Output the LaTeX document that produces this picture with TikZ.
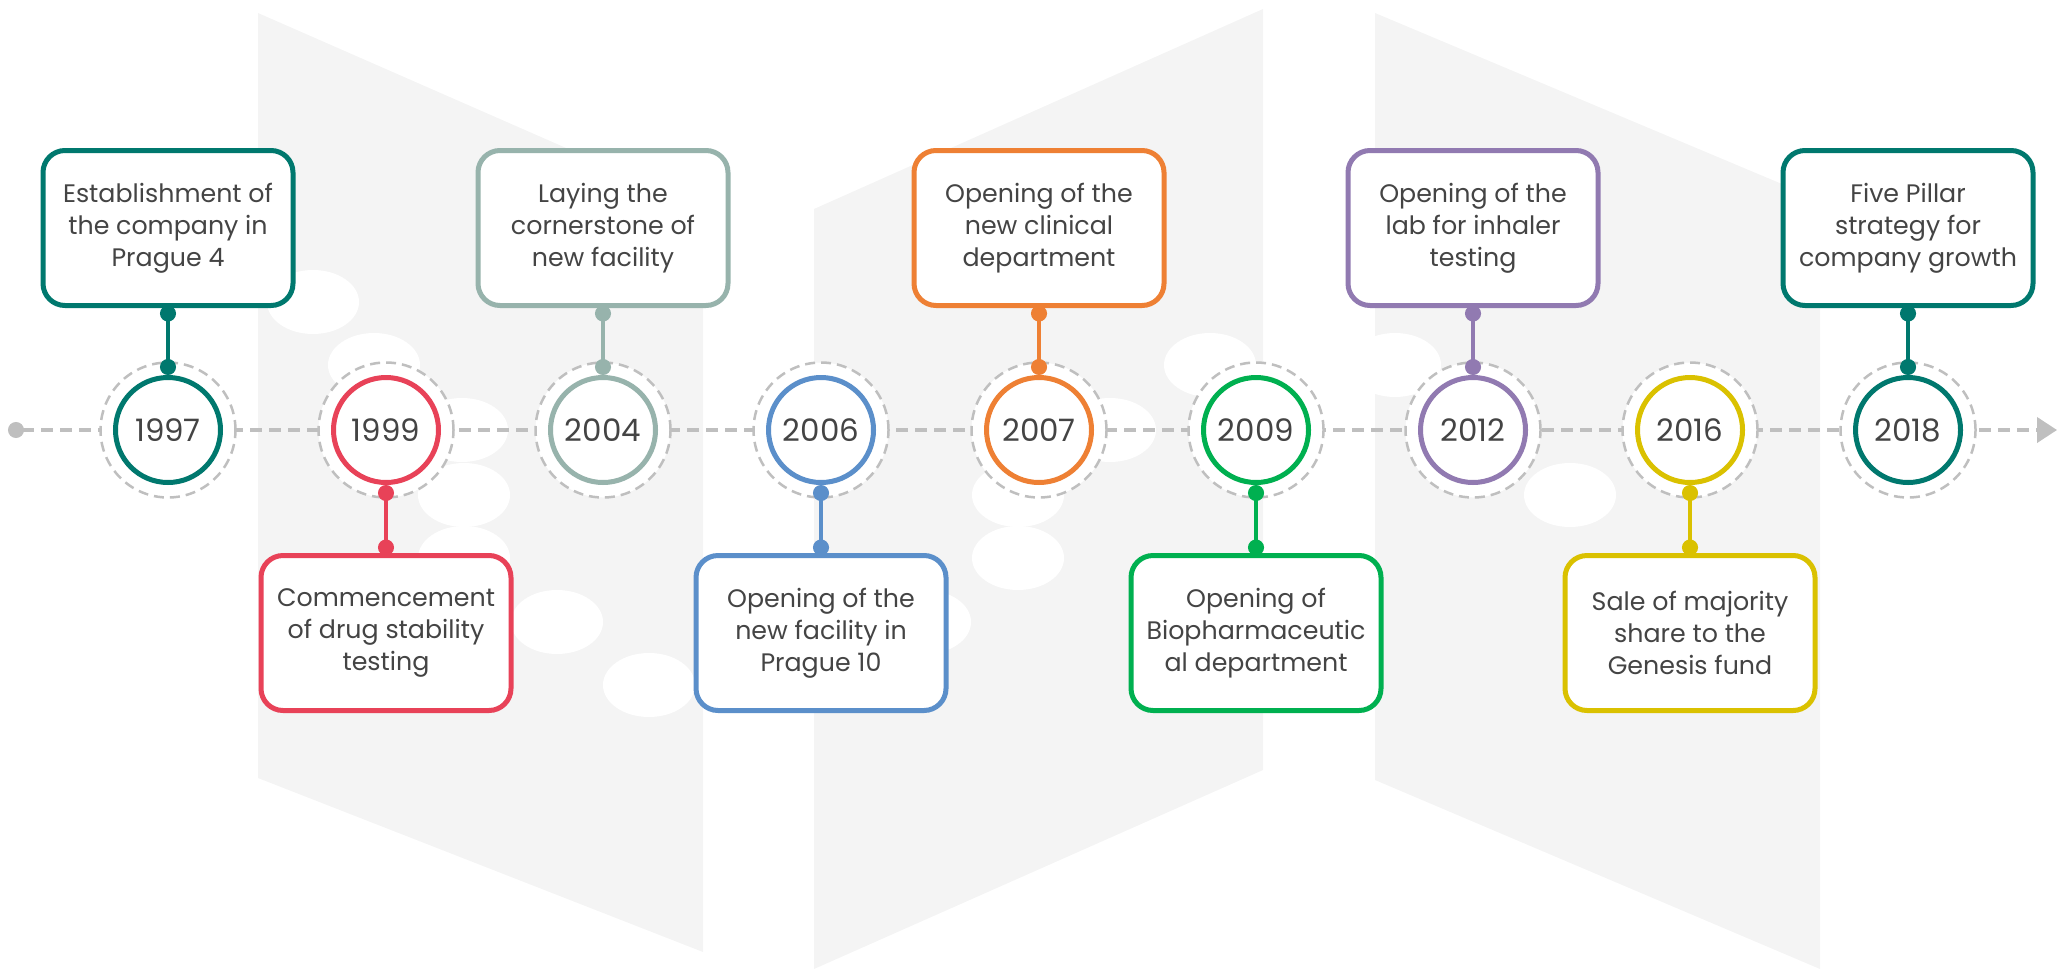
\documentclass[tikz,border=0pt]{standalone}
\usepackage{fontspec}
\setmainfont{Poppins}
\usepackage{tikz}
\usetikzlibrary{arrows.meta}

\definecolor{cTeal}{HTML}{00786E}
\definecolor{cRed}{HTML}{E84258}
\definecolor{cSage}{HTML}{97B3AC}
\definecolor{cBlue}{HTML}{5B8FCA}
\definecolor{cOrange}{HTML}{EE8034}
\definecolor{cGreen}{HTML}{00B050}
\definecolor{cPurple}{HTML}{917AB1}
\definecolor{cYellow}{HTML}{DAC100}
\definecolor{lineGray}{HTML}{BFBFBF}
\definecolor{bgGray}{HTML}{F4F4F4}
\definecolor{txtGray}{HTML}{444444}

\begin{document}
\begin{tikzpicture}[x=0.1mm, y=-0.1mm,
    event/.style={draw, line width=0.5mm, rounded corners=2.2mm, fill=white,
        outer sep=0pt, minimum width=25mm, minimum height=15.5mm, align=center,
        text=txtGray, font=\fontsize{7.2}{9.1}\selectfont},
    year/.style={circle, draw, line width=0.5mm, fill=white, minimum size=10.5mm,
        inner sep=0pt, text=txtGray, font=\fontsize{8.8}{10}\selectfont},
    halo/.style={circle, draw=lineGray, fill=white, line width=0.25mm,
        dash pattern=on 1mm off 0.6mm, minimum size=13.5mm, inner sep=0pt},
    stem/.style={line width=0.4mm, {Circle[length=1.6mm]}-{Circle[length=1.6mm]}},
    timeline/.style={lineGray, line width=0.4mm, dash pattern=on 1.2mm off 0.7mm,
        {Circle[length=1.6mm]}-{Triangle[length=2mm, width=2.5mm]}}]
    \useasboundingbox (0,0) rectangle (2057,969);

    % background shapes
    \fill[bgGray] (258,13) -- (703,208) -- (703,952) -- (258,778) -- cycle;
    \fill[bgGray] (814,209) -- (1263,9) -- (1263,770) -- (814,969) -- cycle;
    \fill[bgGray] (1375,13) -- (1820,200) -- (1820,969) -- (1375,780) -- cycle;
    \foreach \p in {(313,302),(374,365),(462,430),(464,495),(464,558),(557,622),
                    (649,685),(925,622),(1018,495),(1018,558),(1110,430),
                    (1210,365),(1395,365),(1570,495)}
        \fill[white] \p ellipse [x radius=46, y radius=32];

    % timeline
    \coordinate (tlstart) at (8,430);
    \coordinate (tlend) at (2057,430);
    \draw[timeline] (tlstart) -- (tlend);

    \node[halo] (h1) at (168,430) {};
    \node[halo] (h2) at (386,430) {};
    \node[halo] (h3) at (603,430) {};
    \node[halo] (h4) at (821,430) {};
    \node[halo] (h5) at (1039,430) {};
    \node[halo] (h6) at (1256,430) {};
    \node[halo] (h7) at (1473,430) {};
    \node[halo] (h8) at (1690,430) {};
    \node[halo] (h9) at (1908,430) {};

    \node[year, draw=cTeal] (y1997) at (168,430) {1997};
    \node[year, draw=cRed] (y1999) at (386,430) {1999};
    \node[year, draw=cSage] (y2004) at (603,430) {2004};
    \node[year, draw=cBlue] (y2006) at (821,430) {2006};
    \node[year, draw=cOrange] (y2007) at (1039,430) {2007};
    \node[year, draw=cGreen] (y2009) at (1256,430) {2009};
    \node[year, draw=cPurple] (y2012) at (1473,430) {2012};
    \node[year, draw=cYellow] (y2016) at (1690,430) {2016};
    \node[year, draw=cTeal] (y2018) at (1908,430) {2018};

    % events
    \node[event, draw=cTeal] (e1997) at (168,228) {Establishment of\\the company in\\Prague 4};
    \node[event, draw=cRed] (e1999) at (386,633) {Commencement\\of drug stability\\testing};
    \node[event, draw=cSage] (e2004) at (603,228) {Laying the\\cornerstone of\\new facility};
    \node[event, draw=cBlue] (e2006) at (821,633) {Opening of the\\new facility in\\Prague 10};
    \node[event, draw=cOrange] (e2007) at (1039,228) {Opening of the\\new clinical\\department};
    \node[event, draw=cGreen] (e2009) at (1256,633) {Opening of\\Biopharmaceutic\\al department};
    \node[event, draw=cPurple] (e2012) at (1473,228) {Opening of the\\lab for inhaler\\testing};
    \node[event, draw=cYellow] (e2016) at (1690,633) {Sale of majority\\share to the\\Genesis fund};
    \node[event, draw=cTeal] (e2018) at (1908,228) {Five Pillar\\strategy for\\company growth};

    \draw[stem, cTeal] (e1997) -- (y1997);
    \draw[stem, cRed] (e1999) -- (y1999);
    \draw[stem, cSage] (e2004) -- (y2004);
    \draw[stem, cBlue] (e2006) -- (y2006);
    \draw[stem, cOrange] (e2007) -- (y2007);
    \draw[stem, cGreen] (e2009) -- (y2009);
    \draw[stem, cPurple] (e2012) -- (y2012);
    \draw[stem, cYellow] (e2016) -- (y2016);
    \draw[stem, cTeal] (e2018) -- (y2018);
\end{tikzpicture}
\end{document}
